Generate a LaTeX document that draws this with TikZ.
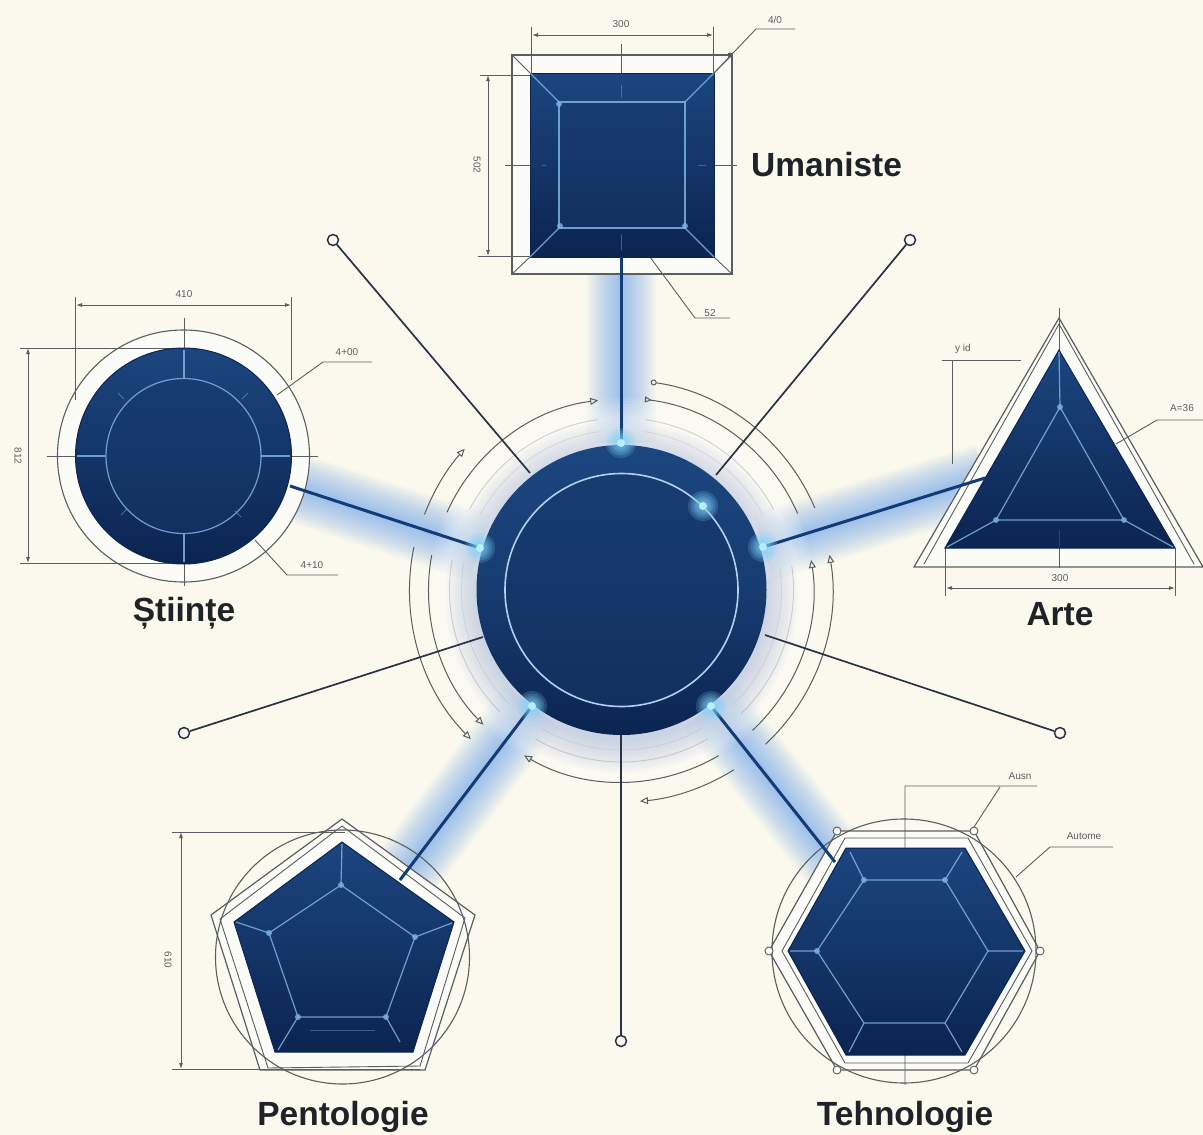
\documentclass[tikz,border=0pt]{standalone}
\usepackage{fontspec}
\setmainfont{Liberation Sans}
\usetikzlibrary{arrows.meta}
\definecolor{paper}{HTML}{FBF9EE}
\definecolor{band}{HTML}{FBFBF7}
\definecolor{dimc}{HTML}{5A5E60}
\definecolor{lite}{HTML}{7FB2E0}
\definecolor{glowb}{HTML}{4A92EA}
\definecolor{halo}{HTML}{6C8CCB}
\definecolor{spoke}{HTML}{123C78}
\definecolor{navyT}{HTML}{1C467F}
\definecolor{navyB}{HTML}{0B2450}
\definecolor{plateT}{HTML}{183C72}
\definecolor{plateB}{HTML}{11305F}
\definecolor{thin}{HTML}{263445}
\definecolor{ink}{HTML}{1E2327}
\definecolor{sparkA}{HTML}{7FD4F8}
\definecolor{sparkB}{HTML}{BDF0FF}
\tikzset{
  dimline/.style={draw=dimc,line width=0.9pt},
  dimarrow/.style={dimline,{Latex[length=6pt,width=4pt]}-{Latex[length=6pt,width=4pt]}},
  liteline/.style={draw=lite,line width=1.2pt,opacity=.85},
  tiny/.style={text=dimc,font=\fontsize{10}{10}\selectfont,inner sep=0pt},
  title/.style={text=ink,font=\fontsize{33.5}{33.5}\selectfont\bfseries,inner sep=0pt},
  term/.style={circle,draw=thin,fill=paper,line width=1.5pt,minimum size=11pt,inner sep=0pt},
  thinspoke/.style={draw=thin,line width=1.7pt},
  bluespoke/.style={draw=spoke,line width=3pt},
  arcline/.style={draw=dimc,line width=1pt},
  fainty/.style={draw=dimc!55,line width=.9pt,opacity=.5},
  opentip/.style={-{Triangle[open,length=8pt,width=7pt]}},
  opendot/.style={{Circle[open,length=6pt,width=6pt]}-},
  opentail/.style={{Triangle[open,length=7pt,width=6pt,reversed]}-},
  solid shape/.style={draw=navyB,line width=1pt,top color=navyT,bottom color=navyB},
}
\newcommand{\glowline}[2]{\foreach \w in {4,7,...,70}{\draw[glowb,line width=\w pt,opacity=.026] (#1) -- (#2);}}
\newcommand{\spark}[1]{\foreach \r in {15,12.5,10,8,6}{\fill[sparkA,opacity=.2] (#1) circle[radius=\r pt];}\fill[sparkB,opacity=.95] (#1) circle[radius=4pt];}
\newcommand{\vtx}[1]{\fill[lite,opacity=.8] (#1) circle[radius=3pt];}
\begin{document}
\begin{tikzpicture}[x=1pt,y=-1pt]
\useasboundingbox (0,0) rectangle (1203,1135);
\fill[paper] (0,0) rectangle (1203,1135);

% anchors for the connectors
\coordinate (hub) at (621.5,590);
\coordinate (pU) at (621,257);  \coordinate (hU) at (621,443);
\coordinate (pS) at (290,486);  \coordinate (hS) at (480,548);
\coordinate (pA) at (985,478);  \coordinate (hA) at (763,547);
\coordinate (pP) at (400,880);  \coordinate (hP) at (532,706);
\coordinate (pT) at (835,862);  \coordinate (hT) at (711,706);
\coordinate (h1) at (530,473);  \coordinate (h2) at (716,475);
\coordinate (h3) at (765,635);  \coordinate (h4) at (483,637);
\coordinate (h5) at (621,735);
\coordinate (hG) at (703,506);

% glow along the lit spokes
\glowline{pU}{hU}\glowline{pS}{hS}\glowline{pA}{hA}\glowline{pP}{hP}\glowline{pT}{hT}

% halo round the hub
\foreach \r in {150,153,...,192}{\fill[white,opacity=.09] (hub) circle[radius=\r pt];}
\foreach \r in {146,149,...,176}{\fill[halo,opacity=.03] ([yshift=-7pt]hub) circle[radius=\r pt];}

% concentric arcs and arrows round the hub
\begin{scope}[shift={(621.5,590)},x=1pt,y=1pt]
  \foreach \a/\b in {98/152,82/28,8/-46,-60/-120,170/225}{
    \draw[fainty] (\a:172) arc[start angle=\a,end angle=\b,radius=172];
    \draw[fainty,opacity=.25] (\a:160) arc[start angle=\a,end angle=\b,radius=160];}
  \draw[arcline,opendot,opentip] (156:191) arc[start angle=156,end angle=97,radius=191];
  \draw[arcline,opentip] (159:211) arc[start angle=159,end angle=138,radius=211];
  \draw[arcline,opentail] (83:192) arc[start angle=83,end angle=23.5,radius=192];
  \draw[arcline,opendot] (82:210) arc[start angle=82,end angle=23,radius=210];
  \draw[arcline,opentip] (-47:192) arc[start angle=-47,end angle=9,radius=192];
  \draw[arcline,opentip] (-47:211) arc[start angle=-47,end angle=9.6,radius=211];
  \draw[arcline,opentip] (-59.6:192) arc[start angle=-59.6,end angle=-120.5,radius=192];
  \draw[arcline,opentip] (-58:212) arc[start angle=-58,end angle=-85,radius=212];
  \draw[arcline,opentip] (169.6:193) arc[start angle=169.6,end angle=224.3,radius=193];
  \draw[arcline,opentip] (168.3:212) arc[start angle=168.3,end angle=224.7,radius=212];
\end{scope}

% thin spokes with open ends
\node[term] (t1) at (333,240) {};
\node[term] (t2) at (910,240) {};
\node[term] (t3) at (1060,733) {};
\node[term] (t4) at (184,733) {};
\node[term] (t5) at (621,1041) {};
\draw[thinspoke] (h1) -- (t1);
\draw[thinspoke] (h2) -- (t2);
\draw[thinspoke] (h3) -- (t3);
\draw[thinspoke] (h4) -- (t4);
\draw[thinspoke] (h5) -- (t5);

% hub disc
\shade[top color=navyT,bottom color=navyB,middle color=navyT!70!navyB] (hub) circle[radius=145pt];
\shade[top color=plateT,bottom color=plateB] (hub) circle[radius=116pt];
\draw[draw=lite!60!white,line width=1.6pt] (hub) circle[radius=116.5pt];

% ---------- Umaniste: square
\fill[band] (512,55) rectangle (732,274);
\draw[dimline,line width=1.3pt] (512,55) rectangle (732,274);
\draw[dimline] (512,55) -- (530,73) (732,55) -- (714,73) (512,274) -- (530,257) (732,274) -- (714,257);
\draw[dimline] (531,27) -- (531,73) (713,27) -- (713,73) (621,44) -- (621,73) (505,165) -- (530,165) (714,165) -- (737,165);
\draw[dimarrow] (532,35) -- (713,35);
\draw[dimline] (480,75) -- (530,75) (478,256) -- (530,256);
\draw[dimarrow] (488,75) -- (488,256);
\draw[dimline] (714,73) -- (756,29) -- (795,29);
\fill[dimc] (730,55) circle[radius=2.5pt];
\draw[dimline] (650,257) -- (695,318) -- (730,318);
\shadedraw[solid shape] (530,73) rectangle (714,257);
\shade[top color=plateT,bottom color=plateB] (559,102) rectangle (685,228);
\draw[liteline] (559,102) rectangle (685,228);
\draw[liteline] (530,73) -- (559,102) (714,73) -- (685,102) (530,257) -- (559,228) (714,257) -- (685,228);
\draw[lite,opacity=.4,line width=1pt] (621,85) -- (621,98) (621,234) -- (621,250) (542,165) -- (546,165) (698,165) -- (706,165);
\vtx{559,104}\vtx{560,226}\vtx{685,226}
\node[tiny] (uw) at (621,24) {300};
\node[tiny] (un) at (775,20) {4/0};
\node[tiny,rotate=-90] (uh) at (477,165) {502};
\node[tiny] (uo) at (710,313) {52};
\node[title,anchor=west] (lU) at (751,165) {Umaniste};

% ---------- Stiinte: circle
\coordinate (cS) at (183.5,456);
\fill[band] (cS) circle[radius=126pt];
\draw[dimline,line width=1.1pt] (cS) circle[radius=126pt];
\draw[dimline] (184,318) -- (184,348) (184,564) -- (184,586) (47,456) -- (76,456) (292,456) -- (318,456);
\draw[dimline] (75,297) -- (75,400) (291,297) -- (291,380);
\draw[dimarrow] (76,305) -- (291,305);
\draw[dimline] (20,348) -- (170,348) (20,563) -- (170,563);
\draw[dimarrow] (28,348) -- (28,563);
\draw[dimline] (277,395) -- (323,362) -- (372,362);
\draw[dimline] (255,540) -- (287,575) -- (338,575);
\shadedraw[solid shape] (cS) circle[radius=108pt];
\shade[top color=plateT,bottom color=plateB] (cS) circle[radius=78pt];
\draw[liteline] (cS) circle[radius=77.5pt];
\draw[liteline] (184,350) -- (184,378) (184,534) -- (184,562) (77,456) -- (105,456) (261,456) -- (290,456);
\draw[lite,opacity=.5,line width=1pt] (118,393) -- (124,399) (248,393) -- (242,399) (121,515) -- (127,509) (241,517) -- (235,511);
\node[tiny] (sw) at (184,294) {410};
\node[tiny] (sa) at (347,352) {4+00};
\node[tiny] (sb) at (312,565) {4+10};
\node[tiny,rotate=-90] (sh) at (18,456) {812};
\node[title] (lS) at (184,613) {Științe};

% ---------- Arte: triangle
\fill[band] (1059,318) -- (1203,567) -- (914,567) -- cycle;
\draw[dimline,line width=1.2pt] (1059,318) -- (1203,567) -- (914,567) -- cycle;
\draw[dimline] (1059,324) -- (1194,564) (1059,324) -- (924,564);
\draw[dimline] (1059,308) -- (1059,350);
\draw[dimline] (942,360) -- (1021,360) (952,360) -- (952,464);
\draw[dimline] (1116,444) -- (1157,420) -- (1203,420);
\draw[dimline] (945,548) -- (945,596) (1175,548) -- (1175,596) (1059,530) -- (1059,568);
\draw[dimarrow] (946,588) -- (1175,588);
\shadedraw[solid shape] (1059,350) -- (1175,548) -- (945,548) -- cycle;
\draw[liteline] (1060,407) -- (1124,520) -- (996,520) -- cycle;
\draw[liteline] (1059,352) -- (1060,407) (947,547) -- (996,520) (1173,547) -- (1124,520);
\draw[dimline,opacity=.5] (1059,530) -- (1059,547);
\vtx{1060,407}\vtx{996,520}\vtx{1124,520}
\node[tiny] (ay) at (963,349) {y id};
\node[tiny] (an) at (1182,408) {A=36};
\node[tiny] (aw) at (1060,578) {300};
\node[title] (lA) at (1060,614) {Arte};

% ---------- Pentologie: pentagon
\fill[band] (342,819) -- (475,915) -- (425,1070) -- (260,1070) -- (211,915) -- cycle;
\draw[dimline,line width=1.1pt] (342.5,957) circle[radius=127pt];
\draw[dimline,line width=1.2pt] (342,819) -- (475,915) -- (425,1070) -- (260,1070) -- (211,915) -- cycle;
\draw[dimline] (342,826) -- (465,918) -- (420,1066) -- (268,1068) -- (220,919) -- cycle;
\draw[dimline] (172,832) -- (345,832) (172,1069) -- (420,1069);
\draw[dimarrow] (181,832) -- (181,1069);
\shadedraw[solid shape] (342,842) -- (454,922) -- (413,1052) -- (275,1052) -- (234,922) -- cycle;
\draw[liteline] (341,885) -- (415,937) -- (386,1017) -- (298,1017) -- (269,933) -- cycle;
\draw[liteline] (342,844) -- (341,885) (452,923) -- (415,937) (400,1042) -- (386,1017) (278,1050) -- (298,1017) (236,922) -- (269,933);
\draw[lite,opacity=.4,line width=1pt] (310,1030) -- (375,1030);
\vtx{341,885}\vtx{415,937}\vtx{386,1017}\vtx{298,1017}\vtx{269,933}
\node[tiny,rotate=-90] (ph) at (168,960) {610};
\node[title] (lP) at (343,1117) {Pentologie};

% ---------- Tehnologie: hexagon
\fill[band] (769,951) -- (837,831) -- (974,831) -- (1040,951) -- (974,1070) -- (837,1070) -- cycle;
\draw[dimline,line width=1.1pt] (904,951) circle[radius=132pt];
\draw[dimline,line width=1.2pt] (769,951) -- (837,831) -- (974,831) -- (1040,951) -- (974,1070) -- (837,1070) -- cycle;
\draw[dimline] (782,951) -- (845,838) -- (968,838) -- (1032,951) -- (968,1063) -- (845,1063) -- cycle;
\draw[dimline] (905,786) -- (905,848) (905,1055) -- (905,1085) (905,786) -- (1037,786) (1000,787) -- (974,827);
\draw[dimline] (1016,877) -- (1050,847) -- (1113,847);
\foreach \x/\y in {769/951,837/831,974/831,1040/951,974/1070,837/1070}{\draw[dimline,fill=band] (\x,\y) circle[radius=4pt];}
\shadedraw[solid shape] (788,951) -- (846,848) -- (965,848) -- (1025,951) -- (965,1055) -- (846,1055) -- cycle;
\draw[liteline] (817,951) -- (864,880) -- (945,880) -- (988,951) -- (945,1023) -- (864,1023) -- cycle;
\draw[liteline] (790,951) -- (817,951) (850,852) -- (864,880) (962,852) -- (945,880) (1023,951) -- (988,951) (962,1052) -- (945,1023) (849,1052) -- (864,1023);
\vtx{817,951}\vtx{864,880}\vtx{945,880}
\node[tiny] (ta) at (1020,776) {Ausn};
\node[tiny] (tb) at (1084,836) {Autome};
\node[title] (lT) at (905,1117) {Tehnologie};

% lit spokes on top
\draw[bluespoke] (pU) -- (hU);
\draw[bluespoke] (pS) -- (hS);
\draw[bluespoke] (pA) -- (hA);
\draw[bluespoke] (pP) -- (hP);
\draw[bluespoke] (pT) -- (hT);

% sparks
\spark{hU}\spark{hS}\spark{hA}\spark{hP}\spark{hT}\spark{hG}
\end{tikzpicture}
\end{document}
